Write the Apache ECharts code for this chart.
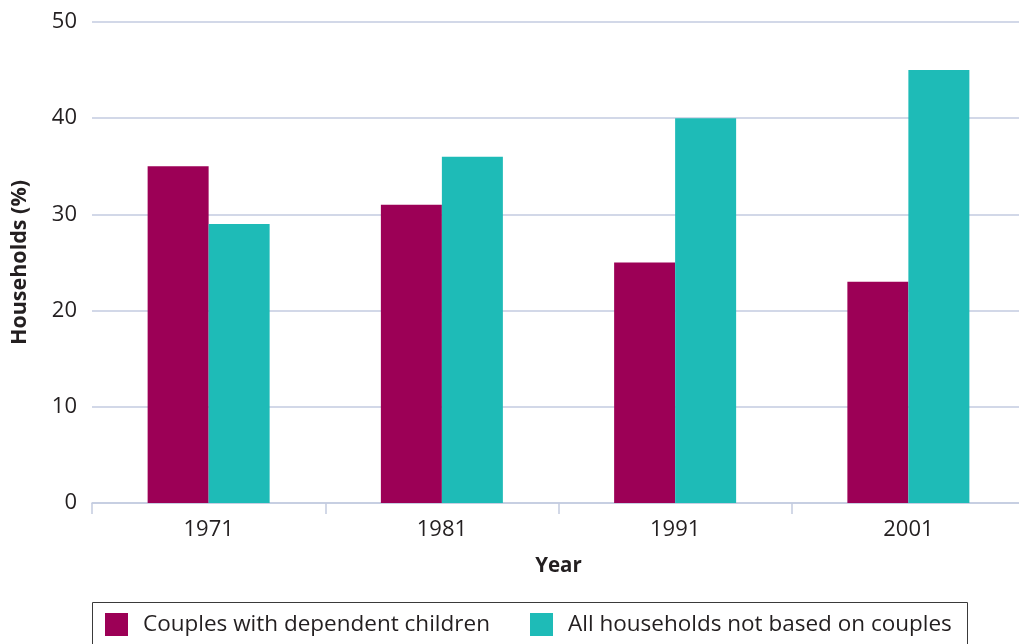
<!DOCTYPE html>
<html>
<head>
<meta charset="utf-8">
<script src="https://cdn.jsdelivr.net/npm/echarts@6/dist/echarts.min.js"></script>
<style>
  html, body { margin: 0; padding: 0; background: #ffffff; }
  #chart { width: 1019px; height: 644px; }
</style>
</head>
<body>
<div id="chart"></div>
<script>
// Share of households by type, census years
const years = ['1971', '1981', '1991', '2001'];
const couplesWithChildren = [35, 31, 25, 23];
const notBasedOnCouples = [29, 36, 40, 45];
const seriesNames = ['Couples with dependent children', 'All households not based on couples'];
const yTicks = { min: 0, max: 50, interval: 10 };

const FONT = '"Open Sans", "Noto Sans", sans-serif';
const TEXT = '#231f20';
const GRID_LINE = '#c3cbe0';
const colors = ['#9c0056', '#1ebbb7'];

const chart = echarts.init(document.getElementById('chart'), null, { renderer: 'canvas' });

const legendText = { fontFamily: FONT, fontSize: 22.5, color: TEXT, padding: [0, 0, 0, 10] };

chart.setOption({
  animation: false,
  backgroundColor: '#ffffff',
  textStyle: { fontFamily: FONT, color: TEXT },
  // the plot runs on past the right edge of the canvas
  grid: { left: 92, top: 22, width: 933, height: 481, containLabel: false, outerBoundsMode: 'none' },
  graphic: [{
    type: 'rect',
    shape: { x: 92.5, y: 602.5, width: 875, height: 60 },
    style: { fill: 'none', stroke: '#3a3a3a', lineWidth: 1 },
    silent: true
  }],
  legend: [
    {
      data: [seriesNames[0]],
      left: 105, top: 613, padding: 0,
      itemWidth: 23, itemHeight: 23,
      icon: 'rect',
      textStyle: legendText
    },
    {
      data: [seriesNames[1]],
      left: 530, top: 613, padding: 0,
      itemWidth: 23, itemHeight: 23,
      icon: 'rect',
      textStyle: legendText
    }
  ],
  xAxis: {
    type: 'category',
    data: years,
    name: 'Year',
    nameLocation: 'middle',
    nameGap: 53,
    nameTextStyle: { fontFamily: FONT, fontSize: 20.5, fontWeight: 'bold', color: TEXT },
    axisLine: { lineStyle: { color: GRID_LINE, width: 1.5 } },
    axisTick: { show: true, length: 11, lineStyle: { color: GRID_LINE, width: 1.5 } },
    axisLabel: { fontFamily: FONT, fontSize: 22, color: TEXT, margin: 16 }
  },
  yAxis: {
    type: 'value',
    min: yTicks.min, max: yTicks.max, interval: yTicks.interval,
    name: 'Households (%)',
    nameLocation: 'middle',
    nameGap: 61,
    nameRotate: 90,
    nameTextStyle: { fontFamily: FONT, fontSize: 21.5, fontWeight: 'bold', color: TEXT },
    axisLine: { show: false },
    axisTick: { show: false },
    axisLabel: { fontFamily: FONT, fontSize: 22, color: TEXT, margin: 15 },
    splitLine: { lineStyle: { color: GRID_LINE, width: 1.5 } }
  },
  series: [
    {
      name: seriesNames[0],
      type: 'bar',
      data: couplesWithChildren,
      barWidth: 61,
      barGap: '0%',
      itemStyle: { color: colors[0] }
    },
    {
      name: seriesNames[1],
      type: 'bar',
      data: notBasedOnCouples,
      barWidth: 61,
      barGap: '0%',
      itemStyle: { color: colors[1] }
    }
  ]
});
</script>
</body>
</html>
